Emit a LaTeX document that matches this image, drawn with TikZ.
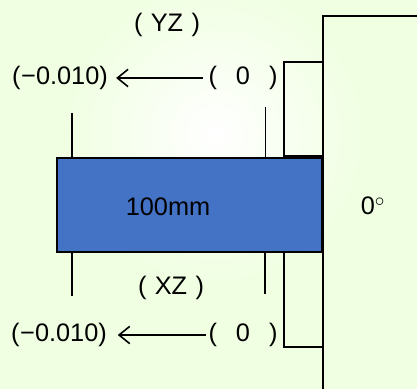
\documentclass[tikz,border=0pt]{standalone}
\usepackage{fontspec}
\usetikzlibrary{arrows.meta}
\setmainfont{Liberation Sans}
\definecolor{bgreen}{HTML}{F0FFE2}
\definecolor{barblue}{HTML}{4472C4}
\begin{document}
\begin{tikzpicture}[x=0.75pt,y=0.75pt,every node/.style={inner sep=0pt,font=\fontsize{19}{22}\selectfont},
  ln/.style={black,line width=1.7pt},tick/.style={black,line width=1pt},
  arr/.style={-{Straight Barb[length=8pt,width=13pt]},line width=1.2pt,shorten >=6pt,shorten <=4pt}]

\useasboundingbox (0,0) rectangle (417,389);
\fill[bgreen] (0,0) rectangle (417,389);
\begin{scope}
\clip (0,0) rectangle (417,389);
\shade[inner color=white,outer color=bgreen] (215,255) circle (150);
\end{scope}

% plate and the two blocks
\draw[ln] (323,0) -- (323,373) -- (417,373);
\draw[ln] (323,327) -- (284,327) -- (284,233) -- (323,233);
\draw[ln] (323,137) -- (284,137) -- (284,42) -- (323,42);
\node[draw,line width=1.7pt,fill=barblue,minimum width=199pt,minimum height=70.5pt] (bar) at (189.5,184) {};
\node at (168,182) {100mm};
\node at (373,183) {0$^\circ$};

\node (yz) at (167,364) {(\hspace{0.33em}YZ\hspace{0.33em})};
\node (xz) at (171,101) {(\hspace{0.33em}XZ\hspace{0.33em})};
\node (v1) at (60,311) {(\kern0.5pt−0.010)};
\node (v2) at (59,54) {(\kern0.5pt−0.010)};
\node (z1) at (243,311) {(\hspace{0.75em}0\hspace{0.75em})};
\node (z2) at (243,54) {(\hspace{0.75em}0\hspace{0.75em})};

\coordinate (t1) at (72,276);
\coordinate (t2) at (265.5,282);
\coordinate (t3) at (72,93);
\coordinate (t4) at (265,95);
\draw[tick] (t1) -- (t1 |- bar.north);
\draw[tick] (t2) -- (t2 |- bar.north);
\draw[tick] (t3) -- (t3 |- bar.south);
\draw[tick] (t4) -- (t4 |- bar.south);

\draw[arr] (z1.west) -- (v1.east);
\draw[arr,shorten >=8pt,shorten <=2pt] (z2.west) -- (v2.east);
\end{tikzpicture}
\end{document}
